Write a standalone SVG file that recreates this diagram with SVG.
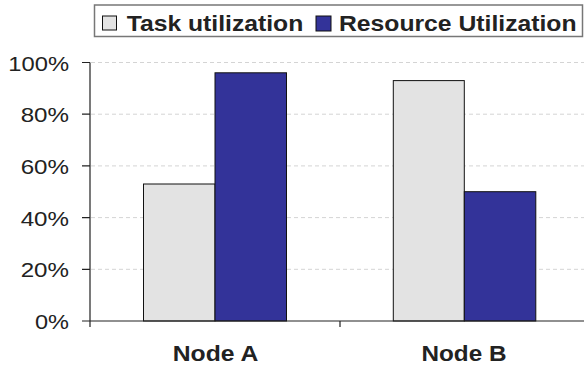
<svg xmlns="http://www.w3.org/2000/svg" width="584" height="366" viewBox="0 0 584 366">
  <style>
    text { font-family: "Liberation Sans", Arial, sans-serif; fill: #222; }
    .tick { font-size: 20px; text-anchor: end; }
    .cat { font-size: 22px; font-weight: bold; text-anchor: middle; }
    .leg { font-size: 22px; font-weight: bold; }
    .grid { stroke: #d4d4d4; stroke-width: 1; stroke-dasharray: 4 3; }
    .axis { stroke: #222; stroke-width: 1.2; fill: none; }
    .task { fill: #e3e3e3; stroke: #111; stroke-width: 1; }
    .res { fill: #333399; stroke: #111; stroke-width: 1; }
  </style>

  <rect width="584" height="366" fill="#ffffff"/>

  <!-- legend -->
  <g id="legend">
    <rect x="94.5" y="5" width="488" height="31.5" fill="#ffffff" stroke="#777" stroke-width="1.5"/>
    <rect class="task" x="102.5" y="16" width="14" height="14"/>
    <text class="leg" x="126.7" y="30.5" textLength="176.6" lengthAdjust="spacingAndGlyphs">Task utilization</text>
    <rect class="res" x="316" y="16" width="15" height="15"/>
    <text class="leg" x="339" y="30.5" textLength="237.5" lengthAdjust="spacingAndGlyphs">Resource Utilization</text>
  </g>

  <!-- gridlines -->
  <g id="grid">
    <line class="grid" x1="91" y1="62.5" x2="584" y2="62.5"/>
    <line class="grid" x1="91" y1="114.2" x2="584" y2="114.2"/>
    <line class="grid" x1="91" y1="165.9" x2="584" y2="165.9"/>
    <line class="grid" x1="91" y1="217.6" x2="584" y2="217.6"/>
    <line class="grid" x1="91" y1="269.3" x2="584" y2="269.3"/>
  </g>

  <!-- bars -->
  <g id="node-a">
    <rect class="task" x="143.5" y="184" width="71.5" height="137"/>
    <rect class="res" x="215" y="72.8" width="71.5" height="248.2"/>
    <text class="cat" x="215.5" y="361" textLength="85.5" lengthAdjust="spacingAndGlyphs">Node A</text>
  </g>
  <g id="node-b">
    <rect class="task" x="393.3" y="80.6" width="71" height="240.4"/>
    <rect class="res" x="464.3" y="191.7" width="71.5" height="129.3"/>
    <text class="cat" x="464" y="361" textLength="85" lengthAdjust="spacingAndGlyphs">Node B</text>
  </g>

  <!-- axes and ticks -->
  <g id="axes">
    <path class="axis" d="M90 62.5 V327 M90 321 H584 M340 321 V327"/>
    <path class="axis" d="M82 62.5 H90 M82 114.2 H90 M82 165.9 H90 M82 217.6 H90 M82 269.3 H90 M82 321 H90"/>
  </g>

  <!-- value axis labels -->
  <g id="y-labels">
    <text class="tick" x="69" y="70.5" textLength="60.7" lengthAdjust="spacingAndGlyphs">100%</text>
    <text class="tick" x="69" y="122.2" textLength="48.3" lengthAdjust="spacingAndGlyphs">80%</text>
    <text class="tick" x="69" y="173.9" textLength="48.3" lengthAdjust="spacingAndGlyphs">60%</text>
    <text class="tick" x="69" y="225.6" textLength="48.3" lengthAdjust="spacingAndGlyphs">40%</text>
    <text class="tick" x="69" y="277.3" textLength="48.3" lengthAdjust="spacingAndGlyphs">20%</text>
    <text class="tick" x="69" y="328.8" textLength="34" lengthAdjust="spacingAndGlyphs">0%</text>
  </g>
</svg>
